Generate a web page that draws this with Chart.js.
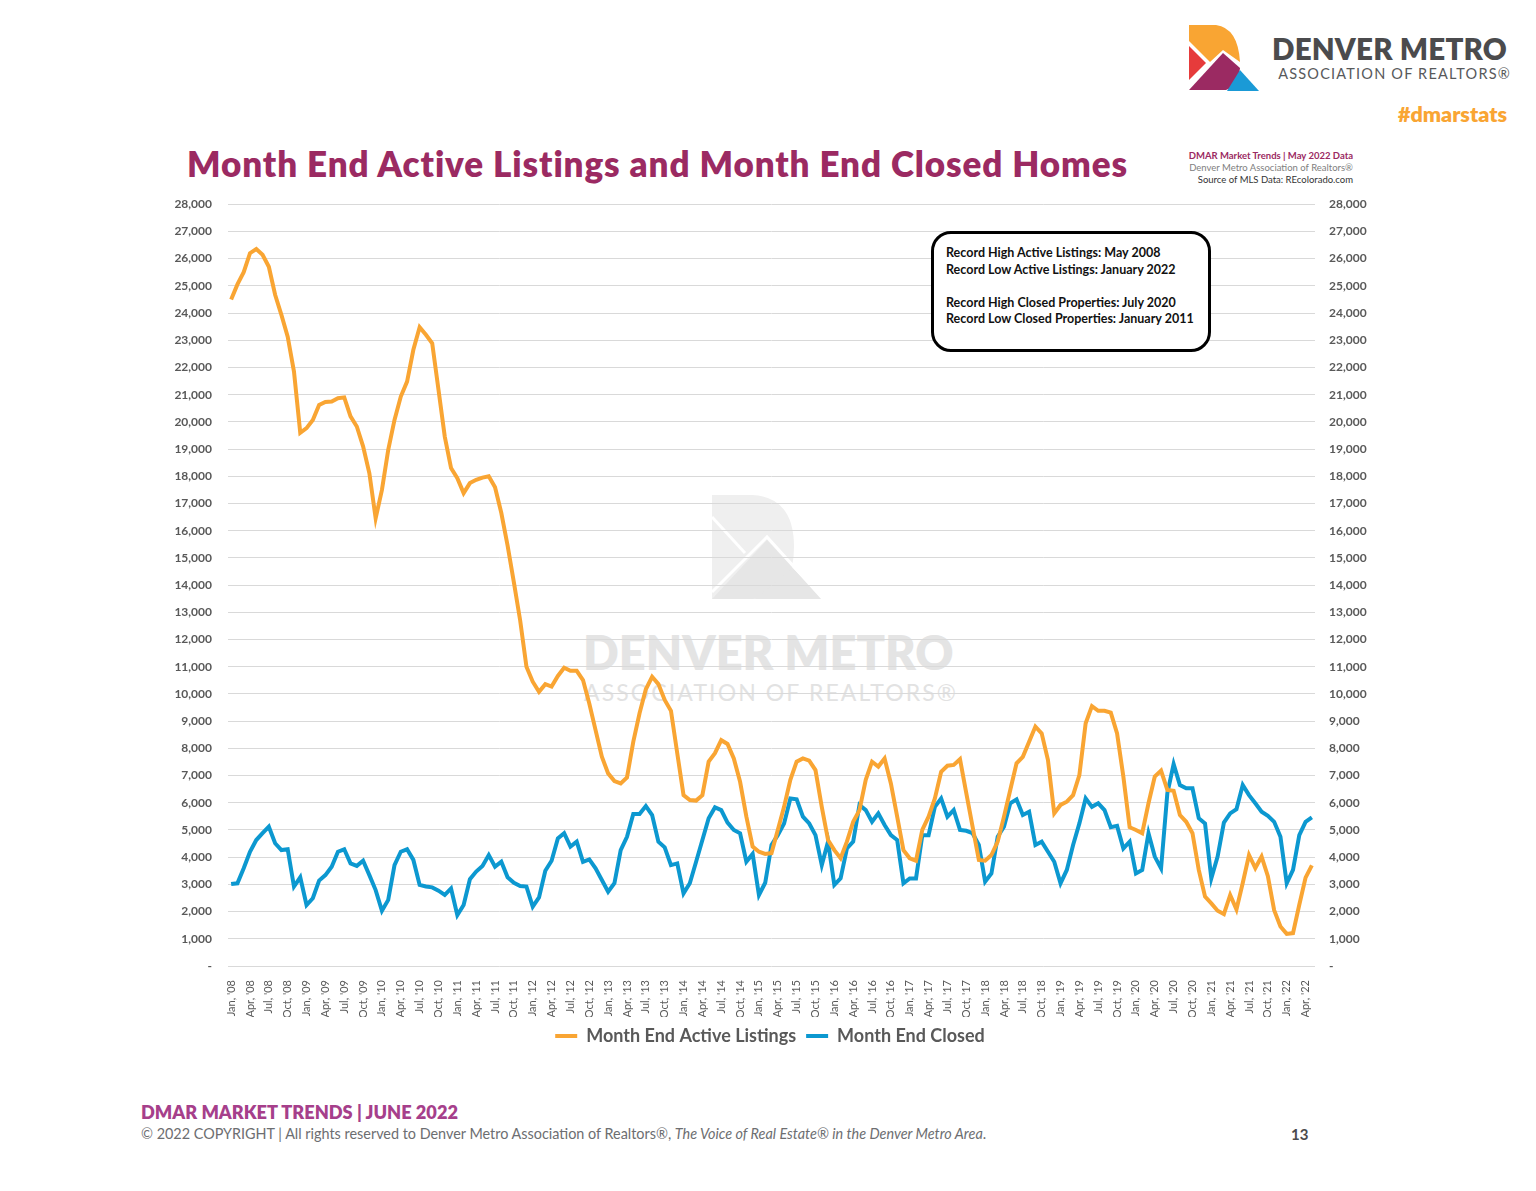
<!DOCTYPE html>
<html>
<head>
<meta charset="utf-8">
<script src="https://cdn.jsdelivr.net/npm/chart.js@4.4.1/dist/chart.umd.min.js"></script>
<style>
  body { margin:0; width:1536px; height:1191px; background:#fff; position:relative; overflow:hidden; font-family:Lato, "Open Sans", sans-serif; }
  .abs { position:absolute; white-space:nowrap; }
  #trendChart { position:absolute; left:140px; top:181px; z-index:1; }
  #watermark { position:absolute; left:0; top:0; z-index:0; }
  .note { position:absolute; left:931px; top:231px; width:280px; height:121px; box-sizing:border-box;
          border:3px solid #000; border-radius:20px; background:#fff; z-index:2; }
  .note div { position:absolute; left:12px; font:700 12.5px Lato, sans-serif; color:#111; white-space:nowrap; }
</style>
</head>
<body>

<!-- header logo -->
<svg class="abs" style="left:1186px;top:23px" width="76" height="72" viewBox="1186 23 76 72">
  <path d="M1189 25 L1216 25 Q1238 28 1240 62 L1223 50 L1210 62 L1189 41 Z" fill="#f9a533"/>
  <path d="M1189 46 L1206 63 L1189 80 Z" fill="#e63b3b"/>
  <path d="M1189 90 L1223 53 L1240 68 Q1238 86 1226 90 Z" fill="#9b2a62"/>
  <path d="M1240 70 L1259 91 L1227 91 Z" fill="#1a9ad6"/>
</svg>
<div class="abs" style="right:29px;top:31px;font:800 29.5px Lato,sans-serif;color:#4b4b4d;letter-spacing:0.2px">DENVER METRO</div>
<div class="abs" style="right:25px;top:65px;font:400 14.5px Lato,sans-serif;color:#58595b;letter-spacing:1.2px">ASSOCIATION OF REALTORS®</div>
<div class="abs" style="right:29px;top:101px;font:800 21.5px Lato,sans-serif;color:#f9a533">#dmarstats</div>

<div class="abs" style="left:187px;top:142px;font:800 35px Lato,sans-serif;color:#9b2a62;letter-spacing:0.9px">Month End Active Listings and Month End Closed Homes</div>

<div class="abs" style="right:183px;top:150px;font:700 9.5px Lato,sans-serif;color:#9b2a62;text-align:right">DMAR Market Trends | May 2022 Data</div>
<div class="abs" style="right:183px;top:162px;font:400 9.5px Lato,sans-serif;color:#808080;text-align:right">Denver Metro Association of Realtors®</div>
<div class="abs" style="right:183px;top:174px;font:400 9.5px Lato,sans-serif;color:#333;text-align:right">Source of MLS Data: REcolorado.com</div>

<!-- faded watermark behind the plot -->
<div id="watermark">
  <svg class="abs" style="left:705px;top:490px" width="125" height="115" viewBox="705 490 125 115">
    <path d="M712 495 L752 495 Q794 497 794 547 Q794 597 752 599 L712 599 Z" fill="#efefef"/>
    <path d="M712 599 L767 540 L793 568 Q785 597 752 599 Z" fill="#e6e6e6"/>
    <path d="M793 568 L823 599 L755 599 Z" fill="#e6e6e6"/>
    <path d="M712 517 L745 553" stroke="#fff" stroke-width="3"/>
    <path d="M712 592 L767 537 L824 600" stroke="#fff" stroke-width="3" fill="none"/>
  </svg>
  <div class="abs" style="left:583px;top:624px;width:366px;text-align:center;font:800 47px Lato,sans-serif;color:#e4e4e4">DENVER METRO</div>
  <div class="abs" style="left:584px;top:678px;width:374px;text-align:center;font:400 23px Lato,sans-serif;color:#e2e2e2;letter-spacing:2.1px">ASSOCIATION OF REALTORS®</div>
</div>

<canvas id="trendChart" width="1260" height="874"></canvas>

<div class="note">
  <div style="top:11px">Record High Active Listings: May 2008</div>
  <div style="top:28px">Record Low Active Listings: January 2022</div>
  <div style="top:61px">Record High Closed Properties: July 2020</div>
  <div style="top:77px">Record Low Closed Properties: January 2011</div>
</div>

<div class="abs" style="left:141px;top:1101px;font:800 18.2px Lato,sans-serif;color:#a63f8b;letter-spacing:0px">DMAR MARKET TRENDS | JUNE 2022</div>
<div class="abs" style="left:141px;top:1125px;font:400 14.4px Lato,sans-serif;color:#6d6e71">© 2022 COPYRIGHT | All rights reserved to Denver Metro Association of Realtors®, <i>The Voice of Real Estate® in the Denver Metro Area</i>.</div>
<div class="abs" style="left:1291px;top:1125px;font:700 15px Lato,sans-serif;color:#4b4b4d">13</div>

<script>
// months run Jan 2008 .. May 2022
const monthNames = ["Jan","Feb","Mar","Apr","May","Jun","Jul","Aug","Sep","Oct","Nov","Dec"];
const startYear = 2008;
const monthCount = 173;

// Month End Active Listings
const activeListings = [
  24500, 25050, 25500, 26200, 26350, 26140, 25700, 24670, 23930, 23130, 21850, 19600,
  19770, 20070, 20620, 20730, 20750, 20870, 20900, 20200, 19830, 19100, 18110, 16460,
  17500, 18970, 20070, 20930, 21480, 22650, 23480, 23200, 22890, 21180, 19460, 18300,
  17930, 17380, 17750, 17870, 17950, 18000, 17600, 16650, 15450, 14100, 12700, 11000,
  10450, 10080, 10360, 10270, 10660, 10960, 10850, 10850, 10510, 9650, 8670, 7690,
  7080, 6800, 6710, 6930, 8240, 9290, 10170, 10630, 10360, 9780, 9380, 7820,
  6280, 6100, 6080, 6280, 7510, 7820, 8300, 8160, 7630, 6770, 5490, 4390,
  4200, 4120, 4150, 5000, 5850, 6840, 7510, 7630, 7550, 7200, 5850, 4630,
  4260, 3960, 4570, 5300, 5730, 6840, 7510, 7330, 7630, 6710, 5490, 4260,
  3960, 3870, 5000, 5490, 6160, 7140, 7360, 7390, 7600, 6350, 5120, 3900,
  3870, 4080, 4570, 5490, 6470, 7450, 7690, 8240, 8800, 8550, 7570, 5610,
  5920, 6040, 6280, 7020, 8920, 9550, 9380, 9380, 9310, 8550, 6960, 5100,
  5000, 4880, 5980, 6960, 7180, 6470, 6440, 5550, 5300, 4880, 3530, 2550,
  2300, 2030, 1910, 2610, 2080, 3050, 4080, 3600, 4020, 3300, 2050, 1450,
  1180, 1210, 2250, 3250, 3700
];

// Month End Closed
const closedHomes = [
  3010, 3040, 3590, 4200, 4630, 4880, 5120, 4510, 4260, 4290, 2920, 3260,
  2240, 2490, 3140, 3340, 3650, 4200, 4290, 3770, 3680, 3870, 3340, 2790,
  2030, 2430, 3710, 4200, 4290, 3900, 2980, 2920, 2890, 2770, 2610, 2850,
  1870, 2240, 3190, 3470, 3680, 4080, 3650, 3830, 3260, 3060, 2940, 2920,
  2180, 2520, 3500, 3870, 4690, 4880, 4390, 4570, 3830, 3920, 3590, 3160,
  2730, 3040, 4260, 4750, 5590, 5590, 5880, 5550, 4570, 4360, 3710, 3770,
  2670, 3040, 3830, 4630, 5430, 5830, 5730, 5270, 5000, 4880, 3830, 4120,
  2610, 3060, 4450, 4810, 5240, 6160, 6125, 5490, 5240, 4810, 3710, 4570,
  2980, 3220, 4320, 4570, 5920, 5730, 5300, 5610, 5180, 4810, 4630, 3040,
  3220, 3220, 4810, 4810, 5850, 6160, 5490, 5730, 5000, 4970, 4880, 4450,
  3100, 3400, 4750, 5120, 5980, 6125, 5550, 5670, 4450, 4570, 4200, 3830,
  3040, 3530, 4450, 5240, 6160, 5850, 5980, 5730, 5100, 5150, 4320, 4570,
  3400, 3530, 4880, 4020, 3590, 6350, 7420, 6650, 6530, 6530, 5430, 5240,
  3220, 4020, 5270, 5610, 5760, 6650, 6280, 5980, 5670, 5520, 5300, 4750,
  3040, 3530, 4810, 5300, 5460
];

const yTicks = { min: 0, max: 28000, step: 1000 };

// "Jan, '08" style labels
const labels = [];
for (let i = 0; i < monthCount; i++) {
  const yr = startYear + Math.floor(i / 12);
  labels.push(monthNames[i % 12] + ", '" + String(yr).slice(2));
}

const gray = "#595959";
const yLabel = (v) => v === 0 ? "-" : v.toLocaleString("en-US");

const ctx = document.getElementById("trendChart");

new Chart(ctx, {
  type: "line",
  data: {
    labels: labels,
    datasets: [{
      label: "Month End Active Listings",
      data: activeListings,
      borderColor: "#f9a533",
      backgroundColor: "#f9a533",
      borderWidth: 4,
      pointRadius: 0,
      tension: 0
    }, {
      label: "Month End Closed",
      data: closedHomes,
      borderColor: "#0c98d0",
      backgroundColor: "#0c98d0",
      borderWidth: 4,
      pointRadius: 0,
      tension: 0
    }]
  },
  options: {
    responsive: false,
    animation: false,
    layout: { padding: { top: 14, left: 0, right: 0, bottom: 0 } },
    plugins: {
      tooltip: { enabled: false },
      legend: {
        position: "bottom",
        labels: {
          usePointStyle: true,
          pointStyle: "line",
          pointStyleWidth: 22,
          color: gray,
          font: { family: "Lato", size: 18, weight: "bold" },
          padding: 10
        }
      }
    },
    scales: {
      x: {
        offset: true,
        grid: { display: false },
        border: { display: false },
        ticks: {
          autoSkip: false,
          minRotation: 90,
          maxRotation: 90,
          padding: 6,
          color: gray,
          font: { family: "Lato", size: 11 },
          callback: (v, i) => i % 3 === 0 ? labels[i] : null
        },
        afterFit: (s) => { s.height = 51; }
      },
      y: {
        position: "left",
        min: yTicks.min,
        max: yTicks.max,
        grid: { color: "#d9d9d9", lineWidth: 1, drawTicks: false },
        border: { display: false },
        ticks: {
          stepSize: yTicks.step,
          padding: 16,
          color: gray,
          font: { family: "Lato", size: 12, weight: "bold" },
          callback: yLabel
        },
        afterFit: (s) => { s.width = 88; }
      },
      y2: {
        position: "right",
        min: yTicks.min,
        max: yTicks.max,
        grid: { display: false, drawTicks: false },
        border: { display: false },
        ticks: {
          stepSize: yTicks.step,
          padding: 14,
          color: gray,
          font: { family: "Lato", size: 12, weight: "bold" },
          callback: yLabel
        },
        afterFit: (s) => { s.width = 85; }
      }
    }
  }
});
</script>
</body>
</html>
